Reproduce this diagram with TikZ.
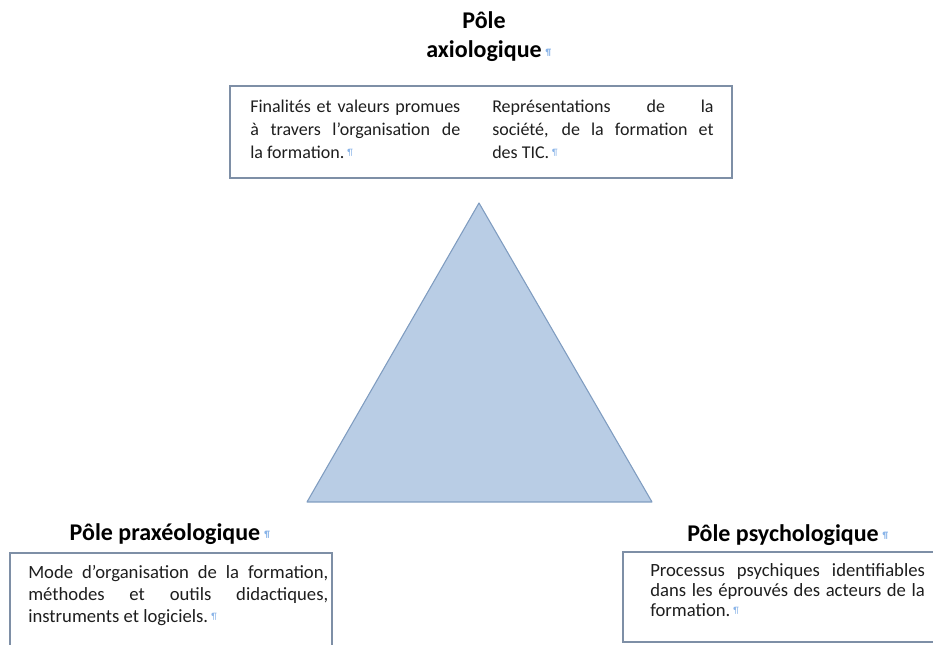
\documentclass[tikz,border=0pt]{standalone}
\usepackage{fontspec}
\setmainfont{Carlito}
\usetikzlibrary{shadows}

\definecolor{trifill}{HTML}{B9CDE5}
\definecolor{triline}{HTML}{7F9CC0}
\definecolor{boxline}{HTML}{7E8FA6}
\definecolor{markblue}{HTML}{8AB4E8}
\definecolor{textgray}{HTML}{1E1E1E}

% small blue paragraph mark after each text
\newcommand{\pmk}{\,{\color{markblue}\fontsize{7}{7}\selectfont\raisebox{0.6ex}{¶}}}

\begin{document}
\begin{tikzpicture}[x=0.75pt,y=-0.75pt,
    poletitle/.style={font=\fontsize{18}{21.75}\selectfont\bfseries, align=center, inner sep=0pt},
    polebox/.style={draw=boxline, line width=1pt, fill=white, inner sep=0pt,
        drop shadow={shadow xshift=1pt, shadow yshift=-1pt, opacity=0.25}},
    boxtext/.style={anchor=north west, align=justify, inner sep=0pt, text=textgray,
        font=\fontsize{13.5}{17}\selectfont}]
    \useasboundingbox (0,0) rectangle (933,645);

    % triangle
    \coordinate (apex) at (479,203);
    \coordinate (left) at (307,502);
    \coordinate (right) at (652,502);
    \draw[fill=trifill, draw=triline, line width=0.8pt, line join=round] (apex) -- (left) -- (right) -- cycle;

    % Pole axiologique
    \node[poletitle] (axtitle) at (484,37) {Pôle\\axiologique\rlap{\pmk}};
    \node[polebox, minimum width=376.5pt, minimum height=69pt] (axbox) at (481,132) {};
    \node[boxtext, text width=157.5pt] (axcol1) at (250,100)
        {Finalités et valeurs promues\linebreak à travers l’organisation de\linebreak la formation.\pmk};
    \node[boxtext, text width=166pt] (axcol2) at (492,100)
        {Représentations de la\linebreak société, de la formation et\linebreak des TIC.\pmk};

    % Pole praxeologique
    \node[poletitle] (prtitle) at (165,534) {Pôle praxéologique\rlap{\pmk}};
    \node[polebox, minimum width=241.5pt, minimum height=110.25pt] (prbox) at (171,626.5) {};
    \node[boxtext, text width=225pt, font=\fontsize{14}{16.5}\selectfont] (prtext) at (28,565)
        {Mode d’organisation de la formation,\linebreak méthodes et outils didactiques,\linebreak instruments et logiciels.\pmk};

    % Pole psychologique
    \node[poletitle] (pstitle) at (783,535) {Pôle psychologique\rlap{\pmk}};
    \node[polebox, minimum width=267.75pt, minimum height=67.5pt] (psbox) at (801.5,597) {};
    \node[boxtext, text width=206pt, font=\fontsize{14}{15}\selectfont] (pstext) at (650,563)
        {Processus psychiques identifiables\linebreak dans les éprouvés des acteurs de la\linebreak formation.\pmk};
\end{tikzpicture}
\end{document}
